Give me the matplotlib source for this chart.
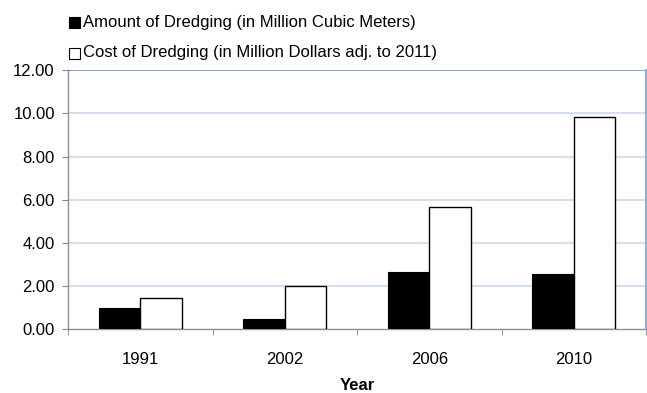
import matplotlib
matplotlib.use("Agg")
import matplotlib.pyplot as plt
import numpy as np
from matplotlib.patches import Rectangle
from matplotlib.ticker import FuncFormatter

years = ["1991", "2002", "2006", "2010"]
amount = [0.97, 0.49, 2.67, 2.55]
cost = [1.46, 2.02, 5.67, 9.84]
yticks = [0, 2, 4, 6, 8, 10, 12]
series_labels = ["Amount of Dredging (in Million Cubic Meters)",
                 "Cost of Dredging (in Million Dollars adj. to 2011)"]

plt.rcParams['font.family'] = ['Liberation Sans', 'DejaVu Sans']

fig = plt.figure(figsize=(6.47, 3.93), dpi=100)
ax = fig.add_axes([68 / 647, 1 - 329.3 / 393, 578 / 647, (329.3 - 70.3) / 393])

x = np.arange(len(years))
w = 0.288
ax.bar(x - w / 2, amount, w, color="black", edgecolor="black", linewidth=0.8, zorder=3)
ax.bar(x + w / 2, cost, w, color="white", edgecolor="black", linewidth=1.0, zorder=3)

ax.set_xlim(-0.5, len(years) - 0.5)
ax.set_ylim(0, 12)
ax.set_yticks(yticks)
ax.yaxis.set_major_formatter(FuncFormatter(lambda v, p: f"{v:.2f}"))
for v in yticks[1:-1]:
    ax.axhline(v, color="#c9d8ef", linewidth=1.2, zorder=1)
ax.axhline(12, color="#7ea2d6", linewidth=1.4, zorder=1)

ax.set_xticks(x)
ax.set_xticklabels(years)
ax.set_xticks(np.arange(len(years) + 1) - 0.5, minor=True)
ax.tick_params(axis="x", which="major", length=0, pad=16, labelsize=12)
ax.tick_params(axis="x", which="minor", length=4.5, color="#888888", direction="out")
ax.tick_params(axis="y", length=4.5, color="#888888", labelsize=12, pad=5)

for side in ["left", "bottom"]:
    ax.spines[side].set_color("#8a8f99")
    ax.spines[side].set_linewidth(1.0)
ax.spines["top"].set_visible(False)
ax.spines["right"].set_color("#7ea2d6")
ax.spines["right"].set_linewidth(1.2)

ax.set_xlabel("Year", fontweight="bold", fontsize=12, labelpad=8.5)

# legend entries drawn above the plot area
for i, (lab, fc) in enumerate(zip(series_labels, ["black", "white"])):
    yc = 1 - (22 + 31 * i) / 393
    fig.patches.append(Rectangle((69 / 647, yc - 5.5 / 393), 11 / 647, 11 / 393,
                                 facecolor=fc, edgecolor="black", linewidth=0.8,
                                 transform=fig.transFigure))
    fig.text(83 / 647, yc, lab, fontsize=12, va="center", ha="left")

fig.savefig("out.png", dpi=100)
